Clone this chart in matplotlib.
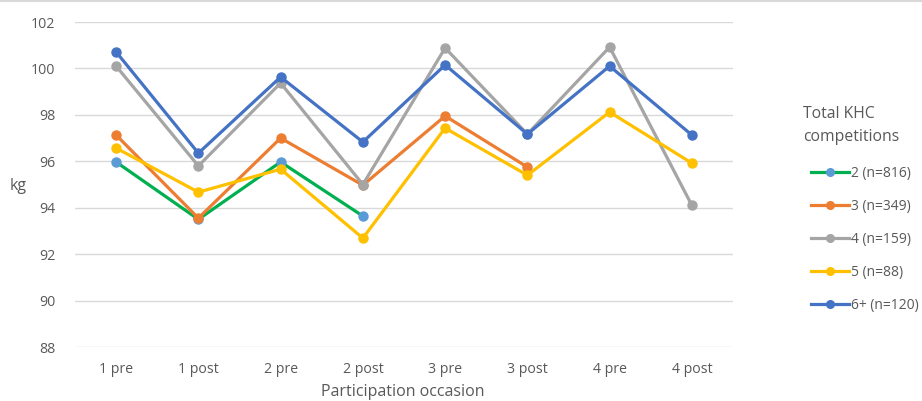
import matplotlib
matplotlib.use("Agg")
import matplotlib.pyplot as plt
from matplotlib.lines import Line2D
import numpy as np

occasions = ["1 pre", "1 post", "2 pre", "2 post", "3 pre", "3 post", "4 pre", "4 post"]

group2 = [95.97, 93.50, 95.97, 93.64, None, None, None, None]
group3 = [97.13, 93.55, 97.00, 94.97, 97.95, 95.75, None, None]
group4 = [100.10, 95.80, 99.37, 95.00, 100.88, 97.17, 100.92, 94.10]
group5 = [96.57, 94.67, 95.66, 92.69, 97.43, 95.40, 98.12, 95.92]
group6 = [100.71, 96.35, 99.63, 96.83, 100.15, 97.17, 100.10, 97.13]

labels = ["2 (n=816)", "3 (n=349)", "4 (n=159)", "5 (n=88)", "6+ (n=120)"]
yticks = [88, 90, 92, 94, 96, 98, 100, 102]

plt.rcParams["font.family"] = ["Open Sans", "DejaVu Sans"]
text_color = "#595959"

fig = plt.figure(figsize=(9.22, 4.01), dpi=100)
ax = fig.add_axes([75 / 922, 1 - 347 / 401, 658 / 922, 325 / 401])

x = np.arange(len(occasions))
series = [
    (group2, "#00B050", "#5B9BD5"),
    (group3, "#ED7D31", "#ED7D31"),
    (group4, "#A5A5A5", "#A5A5A5"),
    (group5, "#FFC000", "#FFC000"),
    (group6, "#4472C4", "#4472C4"),
]

handles = []
for vals, lc, mc in series:
    v = np.array([np.nan if a is None else a for a in vals], dtype=float)
    ax.plot(x, v, color=lc, lw=2.3, marker="o", ms=6.5, mfc=mc, mec=mc,
            solid_capstyle="round", solid_joinstyle="round", zorder=3)
    handles.append(Line2D([0], [0], color=lc, lw=2.3, marker="o", ms=5.5,
                          mfc=mc, mec=mc))

ax.set_xlim(-0.5, len(occasions) - 0.5)
ax.set_ylim(88, 102)
ax.set_yticks(yticks)
ax.set_yticklabels([str(t) for t in yticks])
ax.set_xticks(x)
ax.set_xticklabels(occasions)
ax.grid(axis="y", color="#D9D9D9", lw=1.0)
ax.set_axisbelow(True)
for s in ax.spines.values():
    s.set_visible(False)
ax.tick_params(length=0, colors=text_color, labelsize=10.2)
ax.tick_params(axis="x", pad=11)
ax.tick_params(axis="y", pad=14)

fig.text(18 / 922, 1 - 186 / 401, "kg", color=text_color, fontsize=11.5,
         ha="center", va="center")
fig.text(403 / 922, 1 - 392 / 401, "Participation occasion", color=text_color,
         fontsize=11.5, ha="center", va="center")

# legend title drawn as two left-aligned lines
fig.text(803 / 922, 1 - 114 / 401, "Total KHC", color=text_color,
         fontsize=11.3, ha="left", va="center")
fig.text(803 / 922, 1 - 137 / 401, "competitions", color=text_color,
         fontsize=11.3, ha="left", va="center")

leg = fig.legend(handles, labels, loc="upper left",
                 bbox_to_anchor=(800 / 922, 1 - 155 / 401),
                 frameon=False, fontsize=10.0, handlelength=2.75,
                 handletextpad=0.1, labelspacing=1.3, borderpad=0.3)
for t in leg.get_texts():
    t.set_color(text_color)

fig.add_artist(Line2D([0, 1], [1 - 0.5 / 401, 1 - 0.5 / 401],
                      transform=fig.transFigure, color="#D9D9D9", lw=1.5))

fig.savefig("out.png", dpi=100)
